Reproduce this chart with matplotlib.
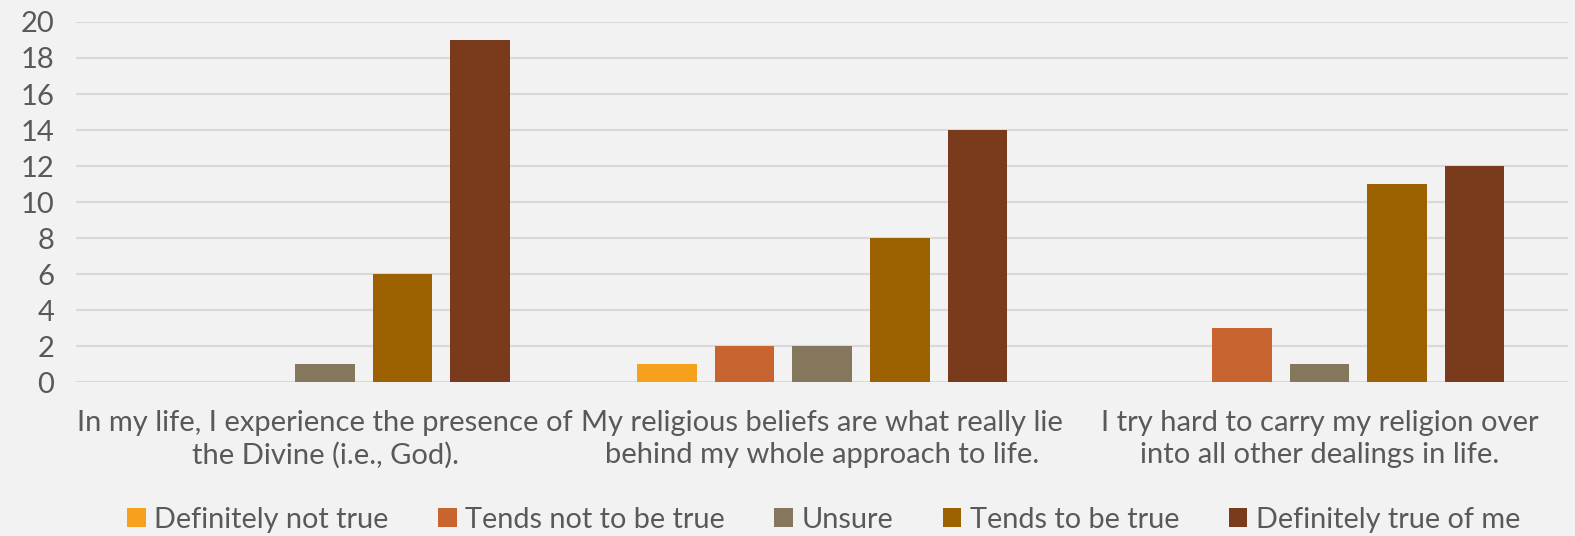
import numpy as np
import matplotlib.pyplot as plt

categories = ["In my life, I experience the presence of\nthe Divine (i.e., God).",
              "My religious beliefs are what really lie\nbehind my whole approach to life.",
              "I try hard to carry my religion over\ninto all other dealings in life."]
series = ["Definitely not true", "Tends not to be true", "Unsure",
          "Tends to be true", "Definitely true of me"]
values = [
    [0, 1, 0],
    [0, 2, 3],
    [1, 2, 1],
    [6, 8, 11],
    [19, 14, 12],
]
colors = ["#F5A11E", "#C8642F", "#85775B", "#9C6100", "#7A3B1C"]

plt.rcParams['font.family'] = ['Lato', 'DejaVu Sans']
txt = "#595959"
bg = "#F2F2F2"

fig = plt.figure(figsize=(15.75, 5.36), dpi=100, facecolor=bg)
ax = fig.add_axes([0.0485, 0.287, 0.9471, 0.672], facecolor=bg)

x = np.arange(len(categories))
pitch = 0.156
width = 0.12
for i, (name, vals) in enumerate(zip(series, values)):
    ax.bar(x + (i - 2) * pitch, vals, width, color=colors[i], label=name, zorder=3)

ax.set_xlim(-0.5, 2.5)
ax.set_ylim(0, 20)
ax.set_yticks(range(0, 21, 2))
ax.grid(axis='y', color="#D9D9D9", linewidth=1.5, zorder=0)
for s in ax.spines.values():
    s.set_visible(False)
ax.tick_params(axis='both', length=0, labelsize=21, colors=txt)
ax.set_xticks(x)
ax.set_xticklabels(categories, fontsize=21, color=txt, linespacing=1.27)
ax.tick_params(axis='x', pad=20)
ax.tick_params(axis='y', pad=16)

leg = fig.legend(loc='center', bbox_to_anchor=(0.523, 0.03), ncol=5,
                 frameon=False, fontsize=20.8, handlelength=0.65, handleheight=0.65,
                 handletextpad=0.3, columnspacing=1.7, labelcolor=txt,
                 borderpad=0.1)

fig.savefig("out.png", dpi=100, facecolor=bg)
